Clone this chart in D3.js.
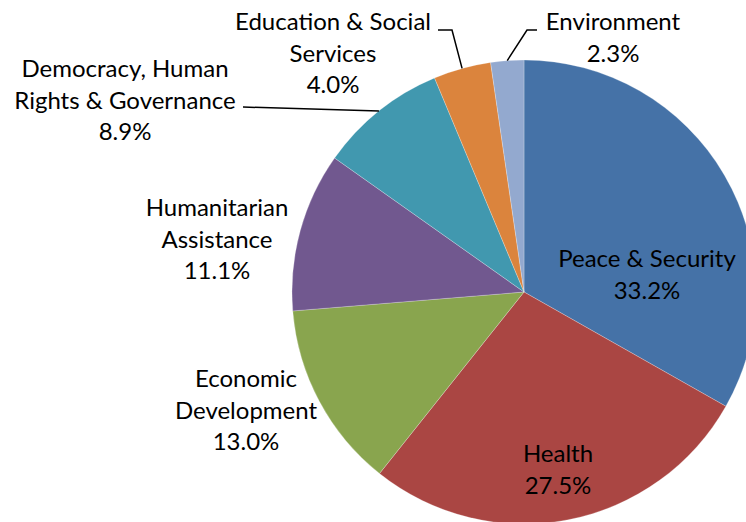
<!DOCTYPE html>
<html>
<head>
<meta charset="utf-8">
<script src="https://cdn.jsdelivr.net/npm/d3@7"></script>
<style>
  body { margin: 0; background: #fff; }
  text { font-family: Lato, "Open Sans", sans-serif; fill: #000; }
</style>
</head>
<body>
<script>
// data
const categories = ["Peace & Security", "Health", "Economic Development", "Humanitarian Assistance",
  "Democracy, Human Rights & Governance", "Education & Social Services", "Environment"];
const shares = [33.2, 27.5, 13.0, 11.1, 8.9, 4.0, 2.3];
const colors = ["#4572A7", "#AA4643", "#89A54E", "#71588F", "#4198AF", "#DB843D", "#93A9CF"];

// how each label is wrapped
const labelLines = [
  ["Peace & Security"],
  ["Health"],
  ["Economic", "Development"],
  ["Humanitarian", "Assistance"],
  ["Democracy, Human", "Rights & Governance"],
  ["Education & Social", "Services"],
  ["Environment"]
];

// layout: label centre (first line) relative to pie centre, and leader elbows
const labelAt = [[123, -33], [34, 162], [-278, 87], [-307, -84], [-399, -223], [-191, -270], [89, -270]];
const leaders = [null, null, null, null,
  [[-281, -185]], [[-86, -262], [-72, -262]], [[13, -262], [3, -262]]];

const width = 746, height = 522;
const cx = 524, cy = 292, r = 232;
const lineH = 31.5;

const svg = d3.select("body").append("svg")
  .attr("width", width)
  .attr("height", height);

const g = svg.append("g").attr("transform", `translate(${cx},${cy})`);

const pie = d3.pie().sort(null).value(d => d);
const arcs = pie(shares);
const arc = d3.arc().innerRadius(0).outerRadius(r);
const rim = d3.arc().innerRadius(r).outerRadius(r);

g.selectAll("path.slice")
  .data(arcs)
  .enter()
    .append("path")
      .attr("class", "slice")
      .attr("d", arc)
      .attr("fill", (d, i) => colors[i])
      .attr("stroke", "#fff")
      .attr("stroke-opacity", 0.35)
      .attr("stroke-width", 0.7);

// leader lines from rim mid point to the label
arcs.forEach((d, i) => {
  if (!leaders[i]) return;
  const pts = [rim.centroid(d)].concat(leaders[i].slice().reverse());
  g.append("path")
    .attr("d", d3.line()(pts))
    .attr("fill", "none")
    .attr("stroke", "#000")
    .attr("stroke-width", 1.5);
});

arcs.forEach((d, i) => {
  const lines = labelLines[i].concat([d3.format(".1f")(shares[i]) + "%"]);
  const t = g.append("text")
    .attr("text-anchor", "middle")
    .style("font-size", "24px");
  lines.forEach((s, k) => {
    t.append("tspan")
      .attr("x", labelAt[i][0])
      .attr("y", labelAt[i][1] + k * lineH)
      .attr("dy", "0.35em")
      .text(s);
  });
});
</script>
</body>
</html>
